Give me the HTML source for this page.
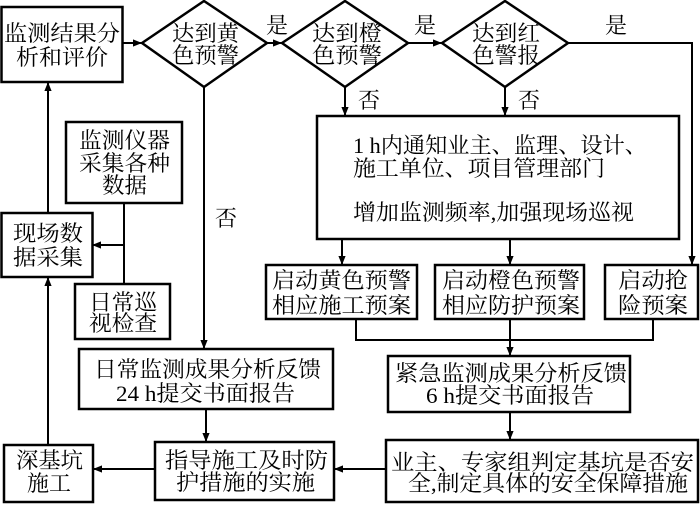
<!DOCTYPE html>
<html><head><meta charset="utf-8"><style>
html,body{margin:0;padding:0;background:#fff;}
svg text{font-family:"Liberation Serif","Noto Serif CJK SC",serif;font-size:22px;fill:#000;}
</style></head><body>
<svg width="700" height="504" viewBox="0 0 700 504" xmlns="http://www.w3.org/2000/svg">
<defs><marker id="a" viewBox="0 0 10 10" refX="10" refY="5" markerWidth="9" markerHeight="9" markerUnits="userSpaceOnUse" orient="auto"><path d="M0,1 L10,5 L0,9 z" fill="#000"/></marker></defs>
<g fill="none" stroke="#000" stroke-width="2.5">
<rect x="1.5" y="7" width="121" height="75"/>
<polygon points="142,43 204,1 267,43 204,87"/>
<polygon points="282,43 345,1 408,43 345,87"/>
<polygon points="442,43 505,1 568,43 505,87"/>
<rect x="317" y="116" width="362" height="123"/>
<rect x="266" y="265" width="151" height="54"/>
<rect x="435" y="265" width="149" height="54"/>
<rect x="605" y="265" width="93" height="54"/>
<rect x="388" y="356" width="242" height="56"/>
<rect x="386" y="440" width="312" height="62"/>
<rect x="155" y="442" width="179" height="58"/>
<rect x="4" y="445" width="89" height="57"/>
<rect x="1.5" y="213" width="91" height="64"/>
<rect x="66" y="122" width="116" height="81"/>
<rect x="75" y="284" width="95" height="55"/>
<rect x="79" y="349" width="254" height="60"/>
</g>
<g fill="none" stroke="#000" stroke-width="2">
<line x1="123" y1="43" x2="142" y2="43" marker-end="url(#a)"/>
<line x1="267" y1="43" x2="282" y2="43" marker-end="url(#a)"/>
<line x1="408" y1="43" x2="442" y2="43" marker-end="url(#a)"/>
<polyline points="568,43 692,43 692,265" marker-end="url(#a)"/>
<line x1="345" y1="87" x2="345" y2="116" marker-end="url(#a)"/>
<line x1="505" y1="87" x2="505" y2="116" marker-end="url(#a)"/>
<line x1="342" y1="239" x2="342" y2="265" marker-end="url(#a)"/>
<line x1="510" y1="239" x2="510" y2="265" marker-end="url(#a)"/>
<polyline points="356,319 356,340 653,340 653,319"/>
<line x1="510" y1="319" x2="510" y2="356" marker-end="url(#a)"/>
<line x1="510" y1="412" x2="510" y2="440" marker-end="url(#a)"/>
<line x1="386" y1="469" x2="334" y2="469" marker-end="url(#a)"/>
<line x1="155" y1="469" x2="93" y2="469" marker-end="url(#a)"/>
<line x1="48" y1="445" x2="48" y2="277" marker-end="url(#a)"/>
<line x1="48" y1="213" x2="48" y2="82" marker-end="url(#a)"/>
<line x1="124" y1="203" x2="124" y2="284"/>
<line x1="124" y1="245" x2="92" y2="245" marker-end="url(#a)"/>
<line x1="204" y1="87" x2="204" y2="349" marker-end="url(#a)"/>
<line x1="206" y1="409" x2="206" y2="442" marker-end="url(#a)"/>
</g>
<g lengthAdjust="spacingAndGlyphs">
<text x="4" y="41" textLength="116" lengthAdjust="spacingAndGlyphs">监测结果分</text>
<text x="16" y="65" textLength="92" lengthAdjust="spacingAndGlyphs">析和评价</text>
<text x="172" y="41" textLength="67" lengthAdjust="spacingAndGlyphs">达到黄</text>
<text x="172" y="63" textLength="67" lengthAdjust="spacingAndGlyphs">色预警</text>
<text x="312" y="41" textLength="70" lengthAdjust="spacingAndGlyphs">达到橙</text>
<text x="312" y="63" textLength="70" lengthAdjust="spacingAndGlyphs">色预警</text>
<text x="472" y="41" textLength="68" lengthAdjust="spacingAndGlyphs">达到红</text>
<text x="472" y="63" textLength="68" lengthAdjust="spacingAndGlyphs">色警报</text>
<text x="266" y="33">是</text>
<text x="414" y="33">是</text>
<text x="605" y="33">是</text>
<text x="358" y="108">否</text>
<text x="518" y="108">否</text>
<text x="215" y="226">否</text>
<text x="353" y="153" textLength="294" lengthAdjust="spacingAndGlyphs">1 h内通知业主、监理、设计、</text>
<text x="353" y="176" textLength="252" lengthAdjust="spacingAndGlyphs">施工单位、项目管理部门</text>
<text x="353" y="220" textLength="281" lengthAdjust="spacingAndGlyphs">增加监测频率,加强现场巡视</text>
<text x="272" y="288" textLength="139" lengthAdjust="spacingAndGlyphs">启动黄色预警</text>
<text x="272" y="313" textLength="139" lengthAdjust="spacingAndGlyphs">相应施工预案</text>
<text x="442" y="288" textLength="138" lengthAdjust="spacingAndGlyphs">启动橙色预警</text>
<text x="442" y="313" textLength="138" lengthAdjust="spacingAndGlyphs">相应防护预案</text>
<text x="618" y="288" textLength="70" lengthAdjust="spacingAndGlyphs">启动抢</text>
<text x="618" y="313" textLength="70" lengthAdjust="spacingAndGlyphs">险预案</text>
<text x="79" y="148" textLength="91" lengthAdjust="spacingAndGlyphs">监测仪器</text>
<text x="79" y="171" textLength="91" lengthAdjust="spacingAndGlyphs">采集各种</text>
<text x="102" y="193" textLength="45" lengthAdjust="spacingAndGlyphs">数据</text>
<text x="13" y="241" textLength="70" lengthAdjust="spacingAndGlyphs">现场数</text>
<text x="13" y="265" textLength="70" lengthAdjust="spacingAndGlyphs">据采集</text>
<text x="89" y="310" textLength="68" lengthAdjust="spacingAndGlyphs">日常巡</text>
<text x="89" y="331" textLength="68" lengthAdjust="spacingAndGlyphs">视检查</text>
<text x="94" y="377" textLength="227" lengthAdjust="spacingAndGlyphs">日常监测成果分析反馈</text>
<text x="116" y="401" textLength="179" lengthAdjust="spacingAndGlyphs">24 h提交书面报告</text>
<text x="395" y="381" textLength="232" lengthAdjust="spacingAndGlyphs">紧急监测成果分析反馈</text>
<text x="426" y="403" textLength="168" lengthAdjust="spacingAndGlyphs">6 h提交书面报告</text>
<text x="391" y="470" textLength="303" lengthAdjust="spacingAndGlyphs">业主、专家组判定基坑是否安</text>
<text x="408" y="491" textLength="280" lengthAdjust="spacingAndGlyphs">全,制定具体的安全保障措施</text>
<text x="165" y="468" textLength="163" lengthAdjust="spacingAndGlyphs">指导施工及时防</text>
<text x="176" y="490" textLength="139" lengthAdjust="spacingAndGlyphs">护措施的实施</text>
<text x="16" y="468" textLength="67" lengthAdjust="spacingAndGlyphs">深基坑</text>
<text x="27" y="491" textLength="44" lengthAdjust="spacingAndGlyphs">施工</text>
</g>
</svg>
</body></html>
